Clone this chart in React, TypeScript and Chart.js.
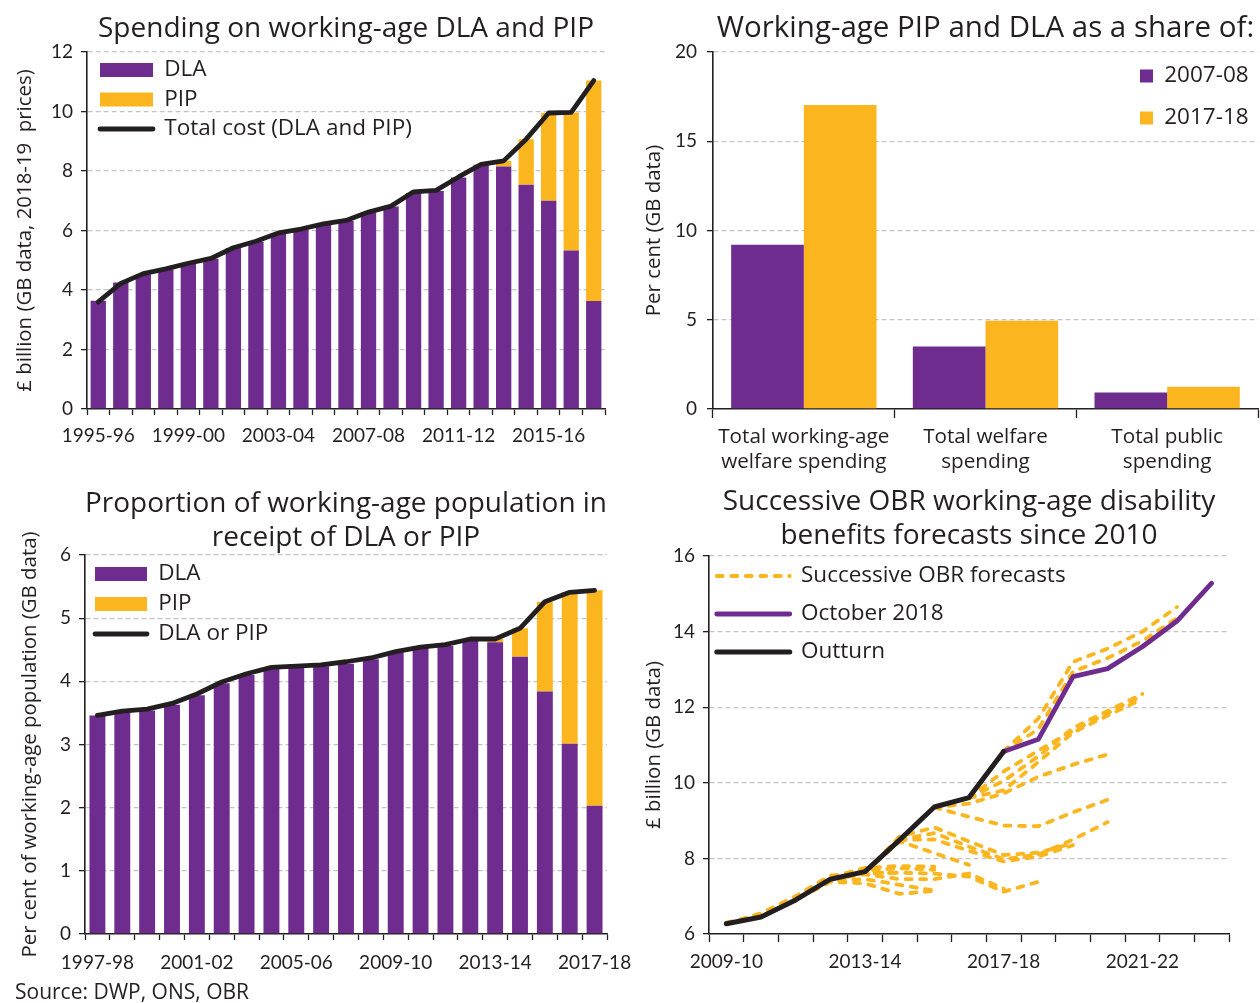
import React, { useEffect, useRef } from 'react';
import { Chart, registerables } from 'chart.js';

Chart.register(...registerables);

const FONT = 'Lato';
const TEXT_FONT = '"Open Sans"';
const INK = '#231F20';
const PURPLE = '#6E2C8F';
const GOLD = '#FBB61F';
const GRID = '#C4C4C4';
const N = null;

// ---------- Chart 1: spending on working-age DLA and PIP (£bn, 2018-19 prices)
const spendYears = ['1995-96', '1996-97', '1997-98', '1998-99', '1999-00', '2000-01', '2001-02', '2002-03', '2003-04', '2004-05', '2005-06', '2006-07', '2007-08', '2008-09', '2009-10', '2010-11', '2011-12', '2012-13', '2013-14', '2014-15', '2015-16', '2016-17', '2017-18'];
const spendDLA = [3.64, 4.25, 4.53, 4.70, 4.88, 5.05, 5.41, 5.63, 5.91, 6.04, 6.21, 6.33, 6.61, 6.81, 7.26, 7.33, 7.78, 8.21, 8.15, 7.54, 7.00, 5.33, 3.63];
const spendPIP = [0, 0, 0, 0, 0, 0, 0, 0, 0, 0, 0, 0, 0, 0, 0, 0, 0, 0, 0.19, 1.53, 2.95, 4.64, 7.41];
const spendTotal = [3.60, 4.22, 4.55, 4.71, 4.90, 5.06, 5.42, 5.64, 5.92, 6.05, 6.22, 6.34, 6.62, 6.82, 7.30, 7.35, 7.80, 8.22, 8.34, 9.07, 9.95, 9.97, 11.04];

// ---------- Chart 2: share of spending
const shareCats = [['Total working-age', 'welfare spending'], ['Total welfare', 'spending'], ['Total public', 'spending']];
const share0708 = [9.2, 3.5, 0.93];
const share1718 = [17.03, 4.95, 1.25];

// ---------- Chart 3: proportion of working-age population in receipt
const recYears = ['1997-98', '1998-99', '1999-00', '2000-01', '2001-02', '2002-03', '2003-04', '2004-05', '2005-06', '2006-07', '2007-08', '2008-09', '2009-10', '2010-11', '2011-12', '2012-13', '2013-14', '2014-15', '2015-16', '2016-17', '2017-18'];
const recDLA = [3.46, 3.51, 3.54, 3.63, 3.78, 3.97, 4.10, 4.20, 4.22, 4.24, 4.28, 4.35, 4.46, 4.53, 4.56, 4.65, 4.62, 4.39, 3.84, 3.01, 2.03];
const recPIP = [0, 0, 0, 0, 0, 0, 0, 0, 0, 0, 0, 0, 0, 0, 0, 0, 0.05, 0.45, 1.42, 2.40, 3.41];
const recTotal = [3.46, 3.53, 3.56, 3.65, 3.80, 3.99, 4.12, 4.22, 4.24, 4.26, 4.31, 4.37, 4.47, 4.54, 4.58, 4.67, 4.67, 4.84, 5.26, 5.41, 5.44];

// ---------- Chart 4: successive OBR forecasts (£bn)
const fcYears = ['2009-10', '2010-11', '2011-12', '2012-13', '2013-14', '2014-15', '2015-16', '2016-17', '2017-18', '2018-19', '2019-20', '2020-21', '2021-22', '2022-23', '2023-24'];
const outturn = [6.27, 6.45, 6.90, 7.45, 7.65, 8.49, 9.36, 9.61, 10.83, N, N, N, N, N, N];
const october2018 = [N, N, N, N, N, N, N, N, 10.83, 11.15, 12.81, 13.02, 13.60, 14.28, 15.28];
const fc01 = [6.27, 6.55, 7.00, 7.55, 7.60, 7.62, N, N, N, N, N, N, N, N, N];
const fc02 = [6.30, 6.50, 6.95, 7.50, 7.75, 7.80, 7.78, N, N, N, N, N, N, N, N];
const fc03 = [N, 6.45, 6.90, 7.38, 7.34, 7.06, 7.14, N, N, N, N, N, N, N, N];
const fc04 = [N, 6.45, 6.92, 7.42, 7.45, 7.30, 7.15, N, N, N, N, N, N, N, N];
const fc05 = [N, N, 6.90, 7.45, 7.62, 7.62, 7.60, 7.52, 7.12, 7.38, N, N, N, N, N];
const fc06 = [N, N, 6.92, 7.45, 7.58, 7.45, 7.45, 7.60, 7.20, N, N, N, N, N, N];
const fc07 = [N, N, N, 7.45, 7.68, 7.74, 7.70, N, N, N, N, N, N, N, N];
const fc08 = [N, N, N, N, 7.63, 8.45, 8.14, 7.83, N, N, N, N, N, N, N];
const fc09 = [N, N, N, N, 7.63, 8.58, 8.82, 8.45, 8.09, 8.15, 8.40, N, N, N, N];
const fc10 = [N, N, N, N, N, 8.49, 8.67, 8.31, 7.98, 8.10, 8.50, 8.96, N, N, N];
const fc11 = [N, N, N, N, N, 8.49, 8.50, 8.20, 7.92, 8.05, 8.35, N, N, N, N];
const fc12 = [N, N, N, N, N, N, 9.35, 9.10, 8.87, 8.85, 9.22, 9.55, N, N, N];
const fc13 = [N, N, N, N, N, N, 9.35, 9.45, 9.72, 10.16, 10.48, 10.75, N, N, N];
const fc14 = [N, N, N, N, N, N, N, 9.60, 9.80, 10.55, 11.33, 11.78, 12.22, N, N];
const fc15 = [N, N, N, N, N, N, N, 9.60, 10.05, 10.70, 11.45, 11.90, 12.35, N, N];
const fc16 = [N, N, N, N, N, N, N, 9.60, 10.30, 10.85, 11.38, 11.84, 12.30, N, N];
const fc17 = [N, N, N, N, N, N, N, N, 10.83, 11.70, 13.20, 13.55, 14.00, 14.65, N];
const fc18 = [N, N, N, N, N, N, N, N, 10.83, 11.42, 12.94, 13.30, 13.75, 14.36, N];
const forecasts = [fc01, fc02, fc03, fc04, fc05, fc06, fc07, fc08, fc09, fc10, fc11, fc12, fc13, fc14, fc15, fc16, fc17, fc18];

Chart.defaults.font.family = FONT;
Chart.defaults.color = INK;

const tickFont = { family: FONT, size: 19 };
const LEGEND_SIZE = 22.5;
const AXIS_TITLE_SIZE = 20.4;

function placePlugin(legendX: number, legendY: number) {
  return {
    id: 'place',
    afterLayout(chart: any) {
      const ca = chart.chartArea;
      const t = chart.titleBlock;
      if (t) {
        t.left = ca.left;
        t.right = ca.right;
      }
      const lg = chart.legend;
      if (lg) {
        const w = lg.width;
        const h = lg.height;
        lg.left = legendX;
        lg.right = legendX + w;
        lg.top = legendY;
        lg.bottom = legendY + h;
      }
    },
  };
}

function makeLabels(chart: any) {
  const base = Chart.defaults.plugins.legend.labels.generateLabels(chart);
  return base
    .map((it: any) => {
      const ds = chart.data.datasets[it.datasetIndex];
      const isLine = (ds.type || chart.config.type) === 'line';
      return {
        ...it,
        pointStyle: isLine ? 'line' : 'rect',
        lineWidth: isLine ? ds.borderWidth : 0,
        strokeStyle: isLine ? ds.borderColor : ds.backgroundColor,
        fillStyle: isLine ? ds.borderColor : ds.backgroundColor,
        lineDash: ds.borderDash || [],
        lineCap: isLine ? 'round' : 'butt',
      };
    })
    .sort((a: any, b: any) => a.datasetIndex - b.datasetIndex);
}

function xAxis(height: number, labelFn: any, pad: number, tickLen: number, stacked: boolean, font: any = tickFont, lineHeight = 1.2) {
  return {
    stacked,
    offset: true,
    grid: { offset: true, drawOnChartArea: false, drawTicks: true, tickLength: tickLen, tickColor: INK, tickWidth: 1.3 },
    border: { display: true, color: INK, width: 1.6 },
    ticks: {
      autoSkip: false,
      maxRotation: 0,
      minRotation: 0,
      padding: pad,
      color: INK,
      font: { ...font, lineHeight },
      callback: labelFn,
    },
    afterFit: (s: any) => {
      s.height = height;
      s.paddingLeft = 0;
      s.paddingRight = 0;
    },
  };
}

function yAxis(min: number, max: number, step: number, width: number, title: string, titleCenterX: number, stacked: boolean, pad = 8) {
  const titlePad = titleCenterX - (AXIS_TITLE_SIZE * 1.2) / 2;
  return {
    min,
    max,
    stacked,
    grid: {
      color: (c: any) => (c.tick && c.tick.value === min ? 'rgba(0,0,0,0)' : GRID),
      lineWidth: 1.3,
      drawTicks: true,
      tickLength: 6,
      tickColor: INK,
      tickWidth: 1.3,
    },
    border: { display: true, color: INK, width: 1.6, dash: [5, 3] },
    ticks: { stepSize: step, padding: pad, color: INK, font: tickFont },
    title: {
      display: true,
      text: title,
      color: INK,
      font: { family: TEXT_FONT, size: AXIS_TITLE_SIZE, lineHeight: 1.2 },
      padding: { top: titlePad, bottom: 0 },
    },
    afterFit: (s: any) => {
      s.width = width;
      s.paddingTop = 0;
      s.paddingBottom = 0;
    },
  };
}

function titleOpts(text: any, size: number, top: number, bottom: number, lineHeight: number) {
  return {
    display: true,
    text,
    color: INK,
    font: { family: TEXT_FONT, size, weight: 'normal' as const, lineHeight },
    padding: { top, bottom },
  };
}

function legendOpts(pad: number, pointWidth: number | null, boxW: number, boxH: number, filter?: any) {
  const labels: any = {
    color: INK,
    font: { family: TEXT_FONT, size: LEGEND_SIZE },
    padding: pad,
    boxWidth: boxW,
    boxHeight: boxH,
  };
  if (pointWidth) {
    labels.usePointStyle = true;
    labels.pointStyleWidth = pointWidth;
    labels.generateLabels = makeLabels;
  }
  if (filter) labels.filter = filter;
  return { display: true, position: 'chartArea' as const, align: 'start' as const, labels };
}

function configSpending(): any {
  return {
    type: 'bar',
    data: {
      labels: spendYears,
      datasets: [
        { type: 'bar', label: 'DLA', data: spendDLA, backgroundColor: PURPLE, borderWidth: 0, barPercentage: 0.68, categoryPercentage: 1, stack: 'bars', order: 2 },
        { type: 'bar', label: 'PIP', data: spendPIP, backgroundColor: GOLD, borderWidth: 0, barPercentage: 0.68, categoryPercentage: 1, stack: 'bars', order: 2 },
        { type: 'line', label: 'Total cost (DLA and PIP)', data: spendTotal, borderColor: INK, backgroundColor: INK, borderWidth: 4.8, pointRadius: 0, stack: 'line', order: 1, borderJoinStyle: 'round', borderCapStyle: 'round', tension: 0 },
      ],
    },
    options: {
      responsive: false,
      animation: false,
      events: [],
      layout: { padding: { left: 0, right: 35, top: 0, bottom: 0 } },
      plugins: {
        title: titleOpts('Spending on working-age DLA and PIP', 28, 12.2, 6.2, 1.2),
        legend: legendOpts(7, 53, 53, 14),
        tooltip: { enabled: false },
      },
      scales: {
        x: xAxis(71, (v: any, i: number) => (i % 4 === 0 ? spendYears[i] : ''), 9.6, 6, true),
        y: yAxis(0, 12, 2, 87, '£ billion (GB data, 2018-19  prices)', 25, true),
      },
    },
    plugins: [placePlugin(93, 51.75)],
  };
}

function configShare(): any {
  return {
    type: 'bar',
    data: {
      labels: shareCats,
      datasets: [
        { label: '2007-08', data: share0708, backgroundColor: PURPLE, borderWidth: 0, barPercentage: 1, categoryPercentage: 0.8 },
        { label: '2017-18', data: share1718, backgroundColor: GOLD, borderWidth: 0, barPercentage: 1, categoryPercentage: 0.8 },
      ],
    },
    options: {
      responsive: false,
      animation: false,
      events: [],
      layout: { padding: { left: 0, right: 2, top: 0, bottom: 0 } },
      plugins: {
        title: titleOpts('Working-age PIP and DLA as a share of:', 29.5, 11.3, 5.3, 1.2),
        legend: legendOpts(19.5, null, 13, 13),
        tooltip: { enabled: false },
      },
      scales: {
        x: xAxis(71, (v: any, i: number) => shareCats[i], 6.5, 9, false, { family: TEXT_FONT, size: 20.7 }, 25 / 20.7),
        y: yAxis(0, 20, 5, 73, 'Per cent (GB data)', 14, false, 10),
      },
    },
    plugins: [placePlugin(480.5, 45.25)],
  };
}

function configReceipt(): any {
  return {
    type: 'bar',
    data: {
      labels: recYears,
      datasets: [
        { type: 'bar', label: 'DLA', data: recDLA, backgroundColor: PURPLE, borderWidth: 0, barPercentage: 0.64, categoryPercentage: 1, stack: 'bars', order: 2 },
        { type: 'bar', label: 'PIP', data: recPIP, backgroundColor: GOLD, borderWidth: 0, barPercentage: 0.64, categoryPercentage: 1, stack: 'bars', order: 2 },
        { type: 'line', label: 'DLA or PIP', data: recTotal, borderColor: INK, backgroundColor: INK, borderWidth: 4.8, pointRadius: 0, stack: 'line', order: 1, borderJoinStyle: 'round', borderCapStyle: 'round', tension: 0 },
      ],
    },
    options: {
      responsive: false,
      animation: false,
      events: [],
      layout: { padding: { left: 0, right: 33, top: 0, bottom: 0 } },
      plugins: {
        title: titleOpts(['Proportion of working-age population in', 'receipt of DLA or PIP'], 28, 17, 0, 34 / 28),
        legend: legendOpts(7.5, 52, 52, 14),
        tooltip: { enabled: false },
      },
      scales: {
        x: xAxis(56, (v: any, i: number) => (i % 4 === 0 ? recYears[i] : ''), 11.6, 6, true),
        y: yAxis(0, 6, 1, 85, 'Per cent of working-age population (GB data)', 30, true),
      },
    },
    plugins: [placePlugin(87.5, 85.25)],
  };
}

function configForecasts(): any {
  const fcSets = forecasts.map((d) => ({
    type: 'line',
    label: 'Successive OBR forecasts',
    data: d,
    borderColor: GOLD,
    backgroundColor: GOLD,
    borderWidth: 3.8,
    borderDash: [6, 8.5],
    borderCapStyle: 'round',
    borderJoinStyle: 'round',
    pointRadius: 0,
    spanGaps: false,
    order: 3,
    tension: 0,
  }));
  return {
    type: 'line',
    data: {
      labels: fcYears,
      datasets: [
        ...fcSets,
        { type: 'line', label: 'October 2018', data: october2018, borderColor: PURPLE, backgroundColor: PURPLE, borderWidth: 4.8, borderCapStyle: 'round', borderJoinStyle: 'round', pointRadius: 0, order: 2, tension: 0 },
        { type: 'line', label: 'Outturn', data: outturn, borderColor: INK, backgroundColor: INK, borderWidth: 5, borderCapStyle: 'round', borderJoinStyle: 'round', pointRadius: 0, order: 1, tension: 0 },
      ],
    },
    options: {
      responsive: false,
      animation: false,
      events: [],
      layout: { padding: { left: 0, right: 31, top: 0, bottom: 0 } },
      plugins: {
        title: titleOpts(['Successive OBR working-age disability', 'benefits forecasts since 2010'], 28, 15, 3, 34 / 28),
        legend: legendOpts(15.5, 73, 73, 14, (item: any) => item.datasetIndex === 0 || item.datasetIndex >= forecasts.length),
        tooltip: { enabled: false },
      },
      scales: {
        x: xAxis(56, (v: any, i: number) => (i % 4 === 0 ? fcYears[i] : ''), 8.6, 8, false),
        y: yAxis(6, 16, 2, 69, '£ billion (GB data)', 14, false),
      },
    },
    plugins: [placePlugin(61.25, 79.25)],
  };
}

function ChartBox({ make, left, top, width, height }: { make: () => any; left: number; top: number; width: number; height: number }) {
  const ref = useRef<HTMLCanvasElement>(null);
  useEffect(() => {
    if (!ref.current) return;
    const chart = new Chart(ref.current, make());
    return () => chart.destroy();
  }, []);
  return <canvas ref={ref} width={width} height={height} style={{ position: 'absolute', left, top, width, height }} />;
}

export default function App() {
  return (
    <div style={{ position: 'absolute', left: 0, top: 0, width: 1260, height: 1003, background: '#ffffff', overflow: 'hidden' }}>
      <ChartBox make={configSpending} left={0} top={0} width={640} height={480} />
      <ChartBox make={configShare} left={640} top={0} width={620} height={480} />
      <ChartBox make={configReceipt} left={0} top={470} width={640} height={520} />
      <ChartBox make={configForecasts} left={640} top={470} width={620} height={520} />
      <div
        style={{
          position: 'absolute',
          left: 15,
          top: 979,
          fontFamily: TEXT_FONT,
          fontSize: 21,
          lineHeight: '24px',
          color: INK,
          whiteSpace: 'nowrap',
        }}
      >
        Source: DWP, ONS, OBR
      </div>
    </div>
  );
}
